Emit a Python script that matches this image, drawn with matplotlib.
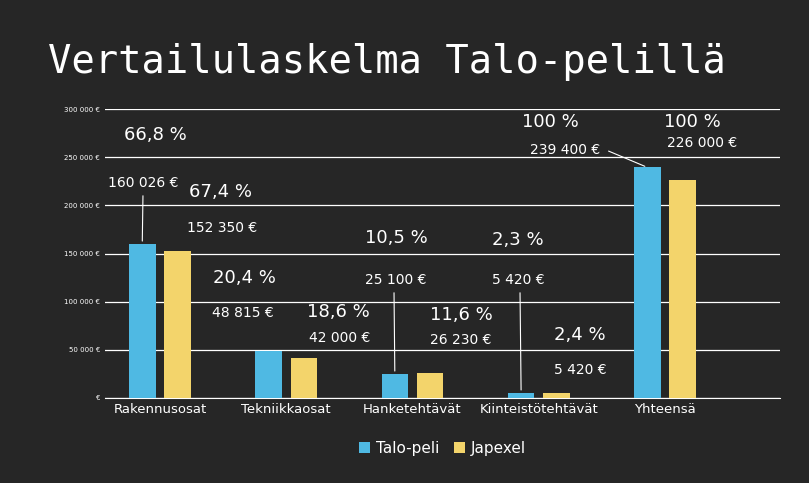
import matplotlib
matplotlib.use("Agg")
import matplotlib.pyplot as plt

categories = ["Rakennusosat", "Tekniikkaosat", "Hanketehtävät", "Kiinteistötehtävät", "Yhteensä"]
talo = [160026, 48815, 25100, 5420, 239400]
japexel = [152350, 42000, 26230, 5420, 226000]
talo_pct = ["66,8 %", "20,4 %", "10,5 %", "2,3 %", "100 %"]
jap_pct = ["67,4 %", "18,6 %", "11,6 %", "2,4 %", "100 %"]
yticks = [0, 50000, 100000, 150000, 200000, 250000, 300000]
ylabels = ["€", "50 000 €", "100 000 €", "150 000 €", "200 000 €", "250 000 €", "300 000 €"]

def fmt(v):
    return f"{v:,}".replace(",", " ") + " €"

W, H = 809, 483
fig = plt.figure(figsize=(W/100, H/100), dpi=100)
bg = "#262626"
fig.patch.set_facecolor(bg)
ax = fig.add_axes([105/W, 1-398/H, 675/W, 289/H])
ax.set_facecolor(bg)
x = list(range(len(categories)))
bw = 0.21
ax.bar([i-0.14 for i in x], talo, bw, color="#4FB9E3", label="Talo-peli", zorder=3)
ax.bar([i+0.14 for i in x], japexel, bw, color="#F3D46B", label="Japexel", zorder=3)
ax.set_xlim(-0.435, 4.91)
ax.set_ylim(0, 300000)
ax.set_yticks(yticks)
ax.set_yticklabels(ylabels, fontsize=5, color="white")
ax.set_xticks(x)
ax.set_xticklabels(categories, fontsize=9.5, color="white")
ax.grid(axis="y", color="white", lw=0.9, zorder=0)
for s in ax.spines.values():
    s.set_visible(False)
ax.spines["bottom"].set_visible(True)
ax.spines["bottom"].set_color("white")
ax.tick_params(length=0)

fig.text(48/W, 1-62/H, "Vertailulaskelma Talo-pelillä", fontsize=28,
         family="DejaVu Sans Mono", color="white", va="center")

# label positions (figure pixels, styling only)
tp = [(155, 135), (244, 278), (396, 238), (518, 240), (550, 122)]
tv = [(143, 183), (243, 313), (396, 280), (518, 280), (565, 150)]
jp = [(220, 192), (338, 312), (461, 315), (580, 335), (692, 122)]
jv = [(222, 228), (340, 338), (461, 340), (580, 370), (702, 143)]

def ft(px, s, size, bold=False):
    fig.text(px[0]/W, 1-px[1]/H, s, fontsize=size, color="white",
             ha="center", va="center", fontweight="bold" if bold else "normal")

for i in range(5):
    ft(tp[i], talo_pct[i], 13)
    ft(tv[i], fmt(talo[i]), 10)
    ft(jp[i], jap_pct[i], 13)
    ft(jv[i], fmt(japexel[i]), 10)

# leader lines
for i, start in [(0, (143, 193)), (2, (394, 290)), (3, (520, 290)), (4, (606, 150))]:
    ax.annotate("", xy=(i-0.14, talo[i]), xycoords="data",
                xytext=(start[0], H-start[1]), textcoords="figure pixels",
                arrowprops=dict(arrowstyle="-", color="white", lw=0.8))

ax.legend(loc="upper center", bbox_to_anchor=(0.5, -0.1), ncol=2, frameon=False,
          fontsize=11, labelcolor="white", handlelength=0.7, handleheight=0.7,
          columnspacing=1.0, handletextpad=0.4)
fig.savefig("out.png", dpi=100, facecolor=bg)
